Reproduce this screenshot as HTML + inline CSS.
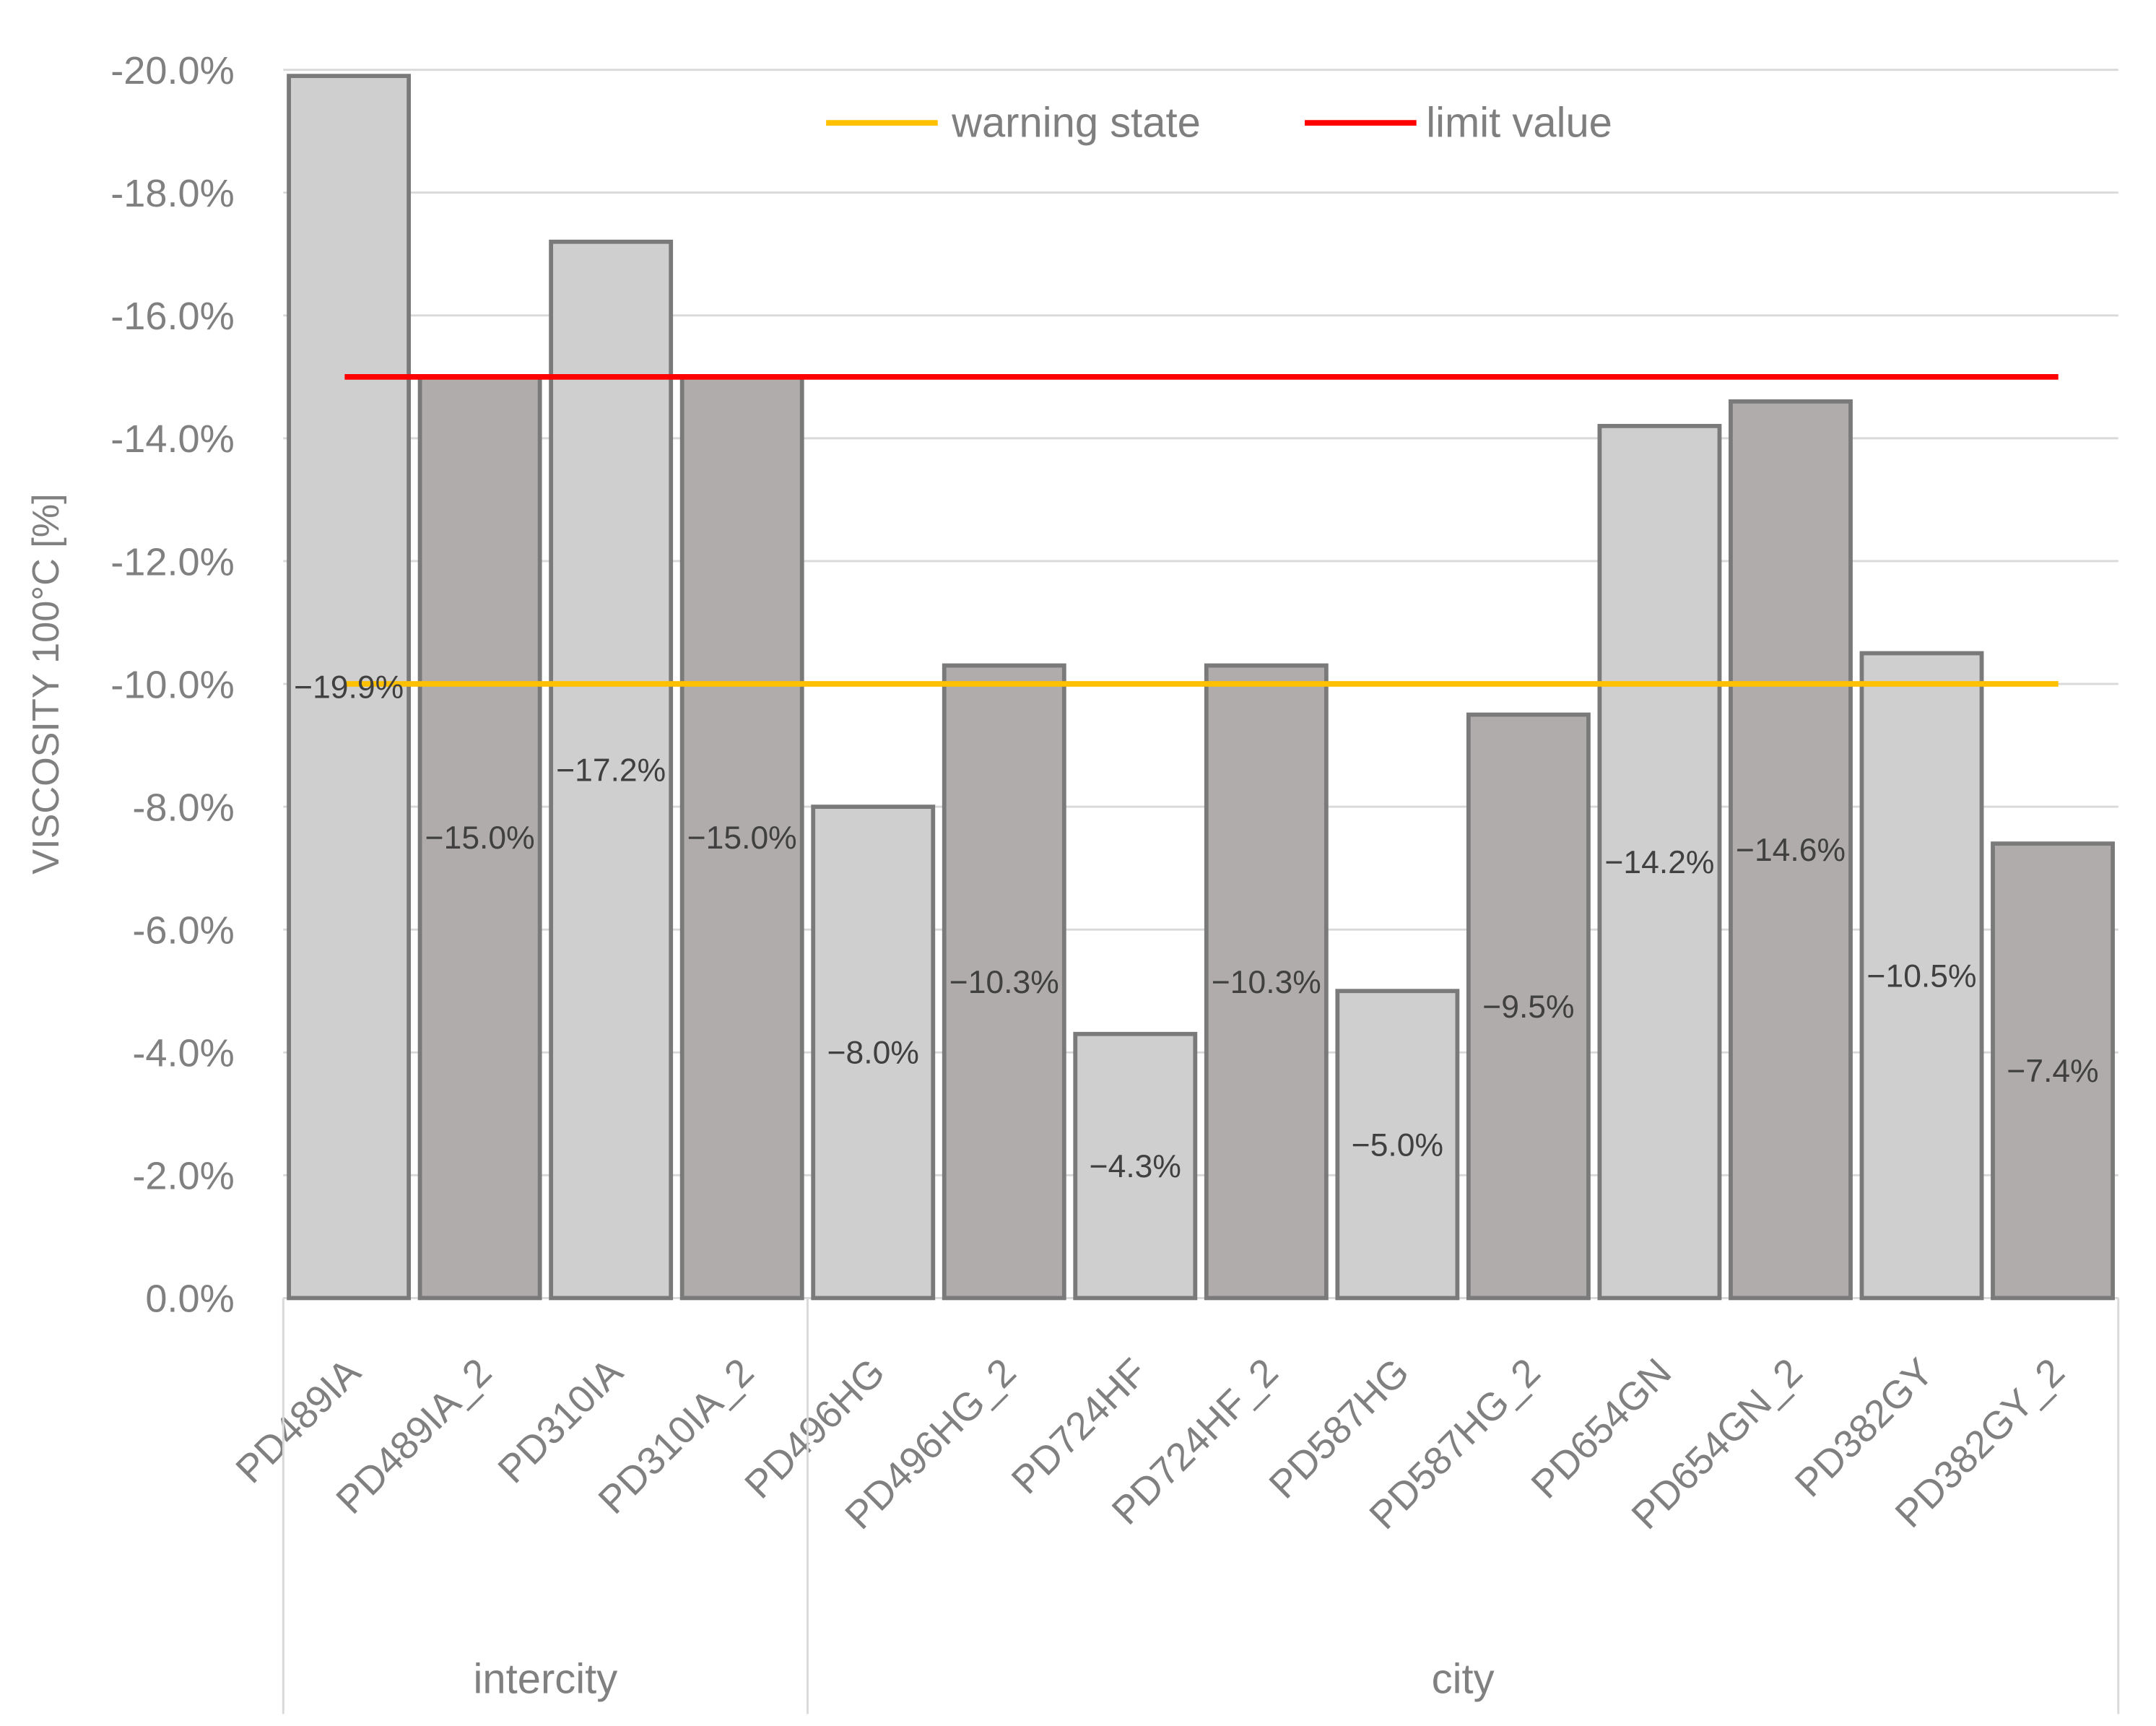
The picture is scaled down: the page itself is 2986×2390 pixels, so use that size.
<!DOCTYPE html>
<html><head><meta charset="utf-8"><style>
html,body{margin:0;padding:0;background:#fff;}
svg{display:block;font-family:"Liberation Sans",sans-serif;}
</style></head><body>
<svg id="chart" width="2986" height="2390" viewBox="0 0 1545 1236.6" xmlns="http://www.w3.org/2000/svg">
<rect width="1545" height="1237" fill="#fff"/>
<g id="grid"></g><g id="bars"></g><g id="lines"></g><g id="labels"></g><g id="axes"></g>
<g>
<line x1="592" y1="88" x2="672" y2="88" stroke="#ffc000" stroke-width="4"/>
<text x="682" y="98" font-size="30" fill="#7f7f7f">warning state</text>
<line x1="935" y1="88" x2="1015" y2="88" stroke="#ff0000" stroke-width="4"/>
<text x="1022" y="98" font-size="30" fill="#7f7f7f">limit value</text>
</g>
<text transform="translate(42,490) rotate(-90)" text-anchor="middle" font-size="27" fill="#808080">VISCOSITY 100°C [%]</text>
</svg>
<script>
const categories=["PD489IA","PD489IA_2","PD310IA","PD310IA_2","PD496HG","PD496HG_2","PD724HF","PD724HF_2","PD587HG","PD587HG_2","PD654GN","PD654GN_2","PD382GY","PD382GY_2"];
const values=[19.9,15.0,17.2,15.0,8.0,10.3,4.3,10.3,5.0,9.5,14.2,14.6,10.5,7.4];
const yTicks=[0,2,4,6,8,10,12,14,16,18,20];
const groups=["intercity","city"];
const groupSizes=[4,10];
const warningValue=10;
const limitValue=15;

const NS="http://www.w3.org/2000/svg";
const L=203,R=1518,T=50,B=930,YMAX=20;
const y=v=>B-(v/YMAX)*(B-T);
const bw=(R-L)/categories.length;
const x=i=>L+i*bw;
function mk(tag,attrs,parent,txt){const e=document.createElementNS(NS,tag);for(const k in attrs)e.setAttribute(k,attrs[k]);if(txt!=null)e.textContent=txt;document.getElementById(parent).appendChild(e);return e;}

yTicks.forEach(t=>{
  const g=mk('line',{x1:L,x2:R,y1:y(t),y2:y(t),stroke:'#d9d9d9','stroke-width':1.5},'grid');
  
  
  const tl=mk('text',{x:168,y:y(t)+10,'text-anchor':'end','font-size':28,fill:'#808080'},'axes',(t===0?'':'-')+t.toFixed(1)+'%');
  
  
});

values.forEach((v,i)=>{
  const x0=x(i)+4,w=bw-8;
  const r=mk('rect',{x:x0,y:y(v),width:w,height:B-y(v),fill:i%2?'#b0acab':'#d0cfd0',stroke:'#7a7a7a','stroke-width':3},'bars');
  
  
  const lb=mk('text',{x:x(i)+bw/2,y:(y(v)+B)/2+8,'text-anchor':'middle','font-size':23,fill:'#404040'},'labels','\u2212'+v.toFixed(1)+'%');
  
  
  const cx=x(i)+bw/2+10;
  const xl=mk('text',{transform:'translate('+cx+',985) rotate(-45)','text-anchor':'end','font-size':28,fill:'#808080'},'axes',categories[i]);
  
  
});

const wl=mk('line',{x1:247,x2:1475,y1:y(warningValue),y2:y(warningValue),stroke:'#ffc000','stroke-width':4},'lines');


const ll=mk('line',{x1:247,x2:1475,y1:y(limitValue),y2:y(limitValue),stroke:'#ff0000','stroke-width':4},'lines');



let start=0;
const sep0=mk('line',{x1:L,x2:L,y1:B,y2:1228,stroke:'#d9d9d9','stroke-width':1.5},'axes');


groups.forEach((g,gi)=>{
  const end=start+groupSizes[gi];
  const s=mk('line',{x1:x(end),x2:x(end),y1:B,y2:1228,stroke:'#d9d9d9','stroke-width':1.5},'axes');
  
  
  const t=mk('text',{x:(x(start)+x(end))/2,y:1213,'text-anchor':'middle','font-size':30,fill:'#808080'},'axes',g);
  
  
  start=end;
});
</script>
</body></html>
